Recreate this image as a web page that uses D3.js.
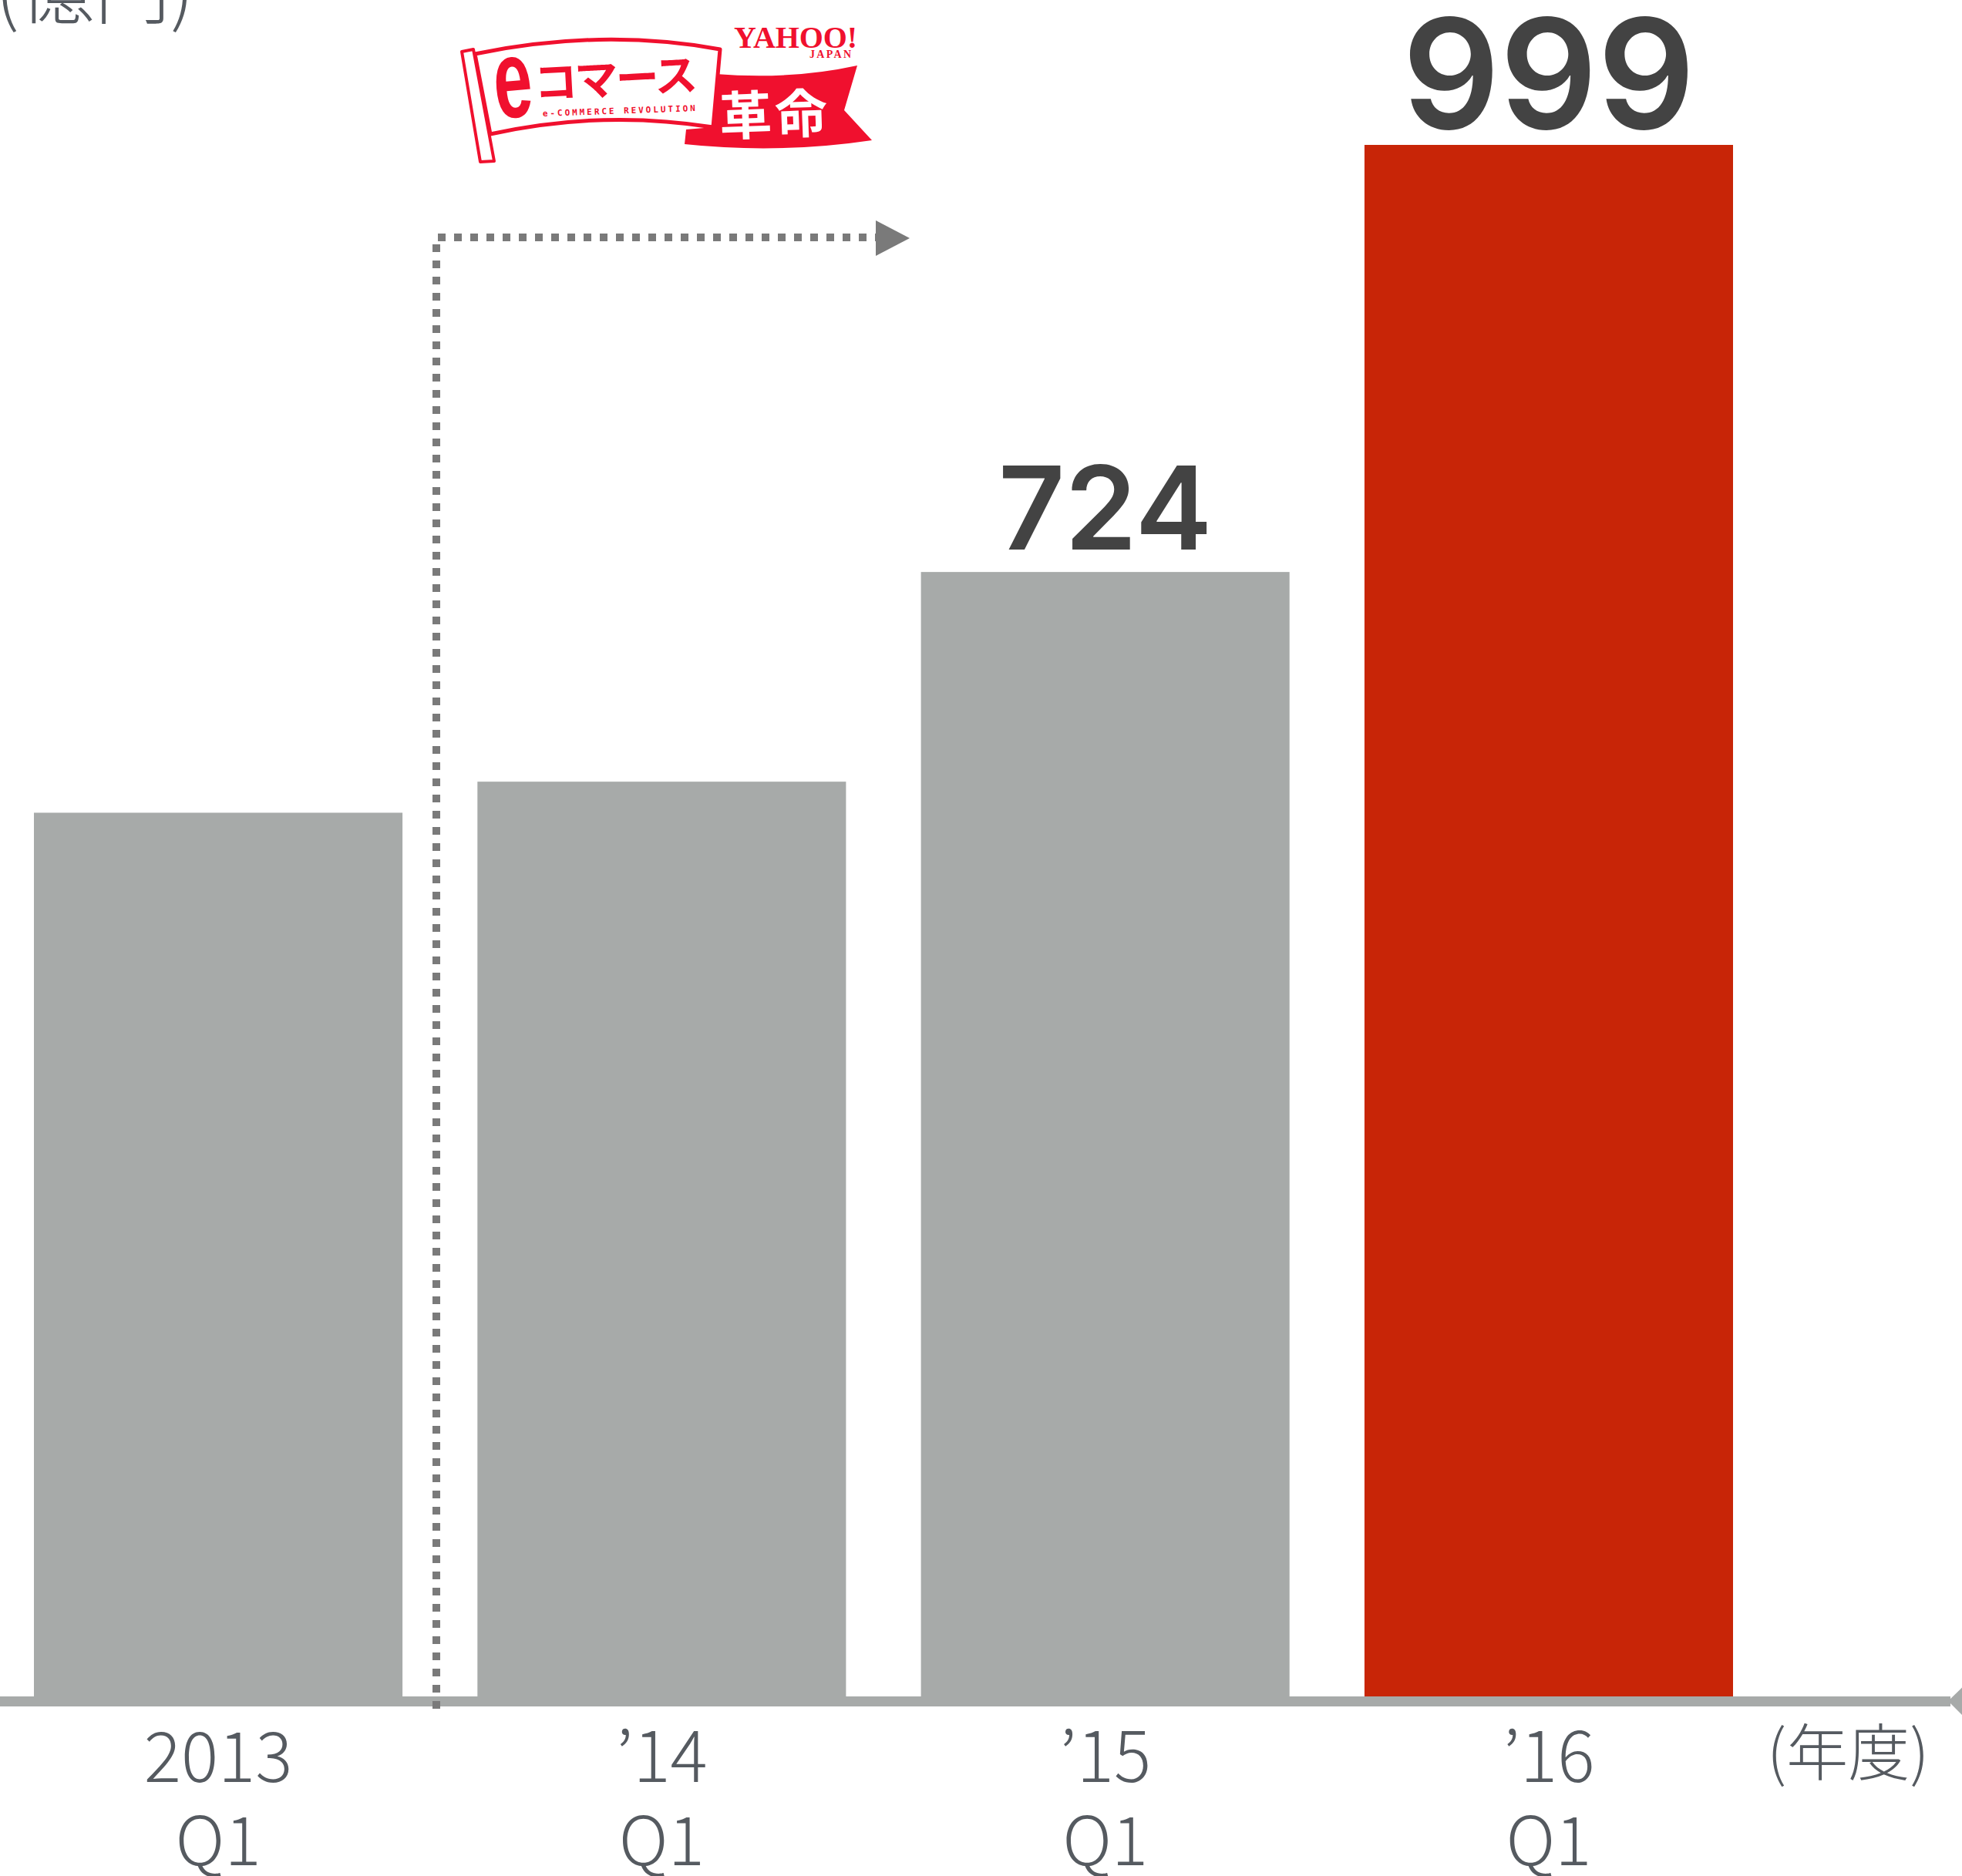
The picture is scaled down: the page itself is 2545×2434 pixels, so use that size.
<!DOCTYPE html>
<html>
<head>
<meta charset="utf-8">
<script src="https://cdn.jsdelivr.net/npm/d3@7"></script>
<style>
  html, body { margin: 0; padding: 0; background: #fff; overflow: hidden; }
</style>
</head>
<body>
<div id="chart"></div>
<script>
// data
var categories = ["2013 Q1", "'14 Q1", "'15 Q1", "'16 Q1"];
var yearLabels = ["2013", "’14", "’15", "’16"];
var quarterLabels = ["Q1", "Q1", "Q1", "Q1"];
var values = [569, 589, 724, 999];
var valueLabels = ["", "", "724", "999"];
var highlight = [false, false, false, true];
var unitLabel = "(億円)";
var xUnitLabel = "(年度)";

var W = 2545, H = 2434;
var baseY = 2201;

var svg = d3.select("#chart")
  .append("svg")
  .attr("width", W)
  .attr("height", H);

var x = d3.scaleBand()
  .domain(categories)
  .range([44, 2248])
  .paddingInner(0.169)
  .paddingOuter(0);

var y = d3.scaleLinear()
  .domain([0, 999])
  .range([baseY, 188]);

var rows = categories.map(function (c, i) {
  return { cat: c, v: values[i], label: valueLabels[i], hi: highlight[i] };
});

// bars
svg.selectAll("rect.bar")
  .data(rows)
  .enter()
  .append("rect")
  .attr("class", "bar")
  .attr("x", function (d) { return x(d.cat); })
  .attr("y", function (d) { return y(d.v); })
  .attr("width", x.bandwidth())
  .attr("height", function (d) { return baseY - y(d.v); })
  .attr("fill", function (d) { return d.hi ? "#c82507" : "#a7aaa9"; });

// value labels
svg.selectAll("text.val")
  .data(rows.filter(function (d) { return d.label; }))
  .enter()
  .append("text")
  .attr("class", "val")
  .attr("x", function (d) { return x(d.cat) + x.bandwidth() / 2; })
  .attr("y", function (d) { return y(d.v) - (d.hi ? 21 : 29); })
  .attr("text-anchor", "middle")
  .style("font-family", "Inter, 'Liberation Sans', sans-serif")
  .style("font-weight", 560)
  .style("font-size", function (d) { return (d.hi ? 198 : 150) + "px"; })
  .attr("fill", "#434343")
  .text(function (d) { return d.label; });

// baseline with arrow cap
svg.append("rect")
  .attr("x", 0).attr("y", baseY)
  .attr("width", 2530).attr("height", 13)
  .attr("fill", "#a7aaa9");
svg.append("path")
  .attr("d", "M2527,2207 L2560,2175 L2560,2240 Z")
  .attr("fill", "#a7aaa9");

// x axis labels (two lines)
var xAxis = svg.append("g")
  .attr("transform", "translate(0," + baseY + ")")
  .call(d3.axisBottom(x).tickSize(0).tickFormat(""));
xAxis.select(".domain").remove();
xAxis.selectAll(".tick text").remove();
xAxis.selectAll(".tick").each(function (d, i) {
  var g = d3.select(this);
  g.append("text")
    .attr("y", 111)
    .attr("text-anchor", "middle")
    .style("font-family", "'Noto Sans CJK JP', sans-serif")
    .style("font-weight", 300)
    .style("font-size", "90px")
    .attr("fill", "#555a60")
    .text(yearLabels[i]);
  g.append("text")
    .attr("y", 219)
    .attr("text-anchor", "middle")
    .style("font-family", "'Noto Sans CJK JP', sans-serif")
    .style("font-weight", 300)
    .style("font-size", "88px")
    .attr("fill", "#555a60")
    .text(quarterLabels[i]);
});

svg.append("text")
  .attr("x", 2292).attr("y", 2303)
  .style("font-family", "'Noto Sans CJK JP', sans-serif")
  .style("font-weight", 300)
  .style("font-size", "80px")
  .attr("fill", "#555a60")
  .text(xUnitLabel);

// unit label, partly cut off at the top
svg.append("text")
  .attr("x", -6).attr("y", 23)
  .style("font-family", "'Noto Sans CJK JP', sans-serif")
  .style("font-weight", 300)
  .style("font-size", "98px")
  .attr("fill", "#555a60")
  .text(unitLabel);

// dotted arrow
svg.append("path")
  .attr("d", "M566,2217 L566,308 L1140,308")
  .attr("fill", "none")
  .attr("stroke", "#7a7a7a")
  .attr("stroke-width", 10)
  .attr("stroke-dasharray", "10 11");
svg.append("path")
  .attr("d", "M1136,286 L1180,309 L1136,332 Z")
  .attr("fill", "#7a7a7a");

// logo (e-commerce revolution flag)
var red = "#f0102e";
var logo = svg.append("g");
logo.append("path")
  .attr("d", "M928,96 Q1025,104 1112,85 L1095,143 L1131,182 Q1010,200 888,187 L890,168 L925,165 Z")
  .attr("fill", red);
logo.append("path")
  .attr("d", "M616,70 Q780,36 934,64 L925,165 Q780,142 636,174 Z")
  .attr("fill", "#fff")
  .attr("stroke", red)
  .attr("stroke-width", 5)
  .attr("stroke-linejoin", "round");
logo.append("path")
  .attr("d", "M599,67 L614,64 L641,209 L623,210 Z")
  .attr("fill", "#fff")
  .attr("stroke", red)
  .attr("stroke-width", 4)
  .attr("stroke-linejoin", "round");
logo.append("text")
  .attr("transform", "translate(644,154) rotate(-5) scale(0.62,1)")
  .style("font-family", "'Liberation Sans', sans-serif")
  .style("font-weight", 700)
  .style("font-size", "145px")
  .attr("fill", red)
  .text("e");
logo.append("text")
  .attr("transform", "translate(694,128) rotate(-3)")
  .attr("textLength", 212)
  .style("font-family", "'Noto Sans CJK JP', sans-serif")
  .style("font-weight", 700)
  .style("font-size", "56px")
  .attr("fill", red)
  .text("コマース");
logo.append("text")
  .attr("transform", "translate(704,151) rotate(-2)")
  .attr("textLength", 198)
  .style("font-family", "'DejaVu Sans Mono', monospace")
  .style("font-weight", 700)
  .style("font-size", "11px")
  .attr("fill", red)
  .text("e-COMMERCE REVOLUTION");
logo.append("text")
  .attr("transform", "translate(934,176) rotate(-2)")
  .attr("textLength", 140)
  .style("font-family", "'Noto Sans CJK JP', sans-serif")
  .style("font-weight", 700)
  .style("font-size", "68px")
  .attr("fill", "#fff")
  .text("革命");
logo.append("text")
  .attr("x", 952).attr("y", 62)
  .attr("textLength", 160)
  .style("font-family", "'Liberation Serif', serif")
  .style("font-weight", 700)
  .style("font-size", "40px")
  .attr("fill", red)
  .text("YAHOO!");
logo.append("text")
  .attr("x", 1050).attr("y", 75)
  .attr("textLength", 54)
  .style("font-family", "'Liberation Serif', serif")
  .style("font-weight", 700)
  .style("font-size", "14px")
  .attr("fill", red)
  .text("JAPAN");
</script>
</body>
</html>
